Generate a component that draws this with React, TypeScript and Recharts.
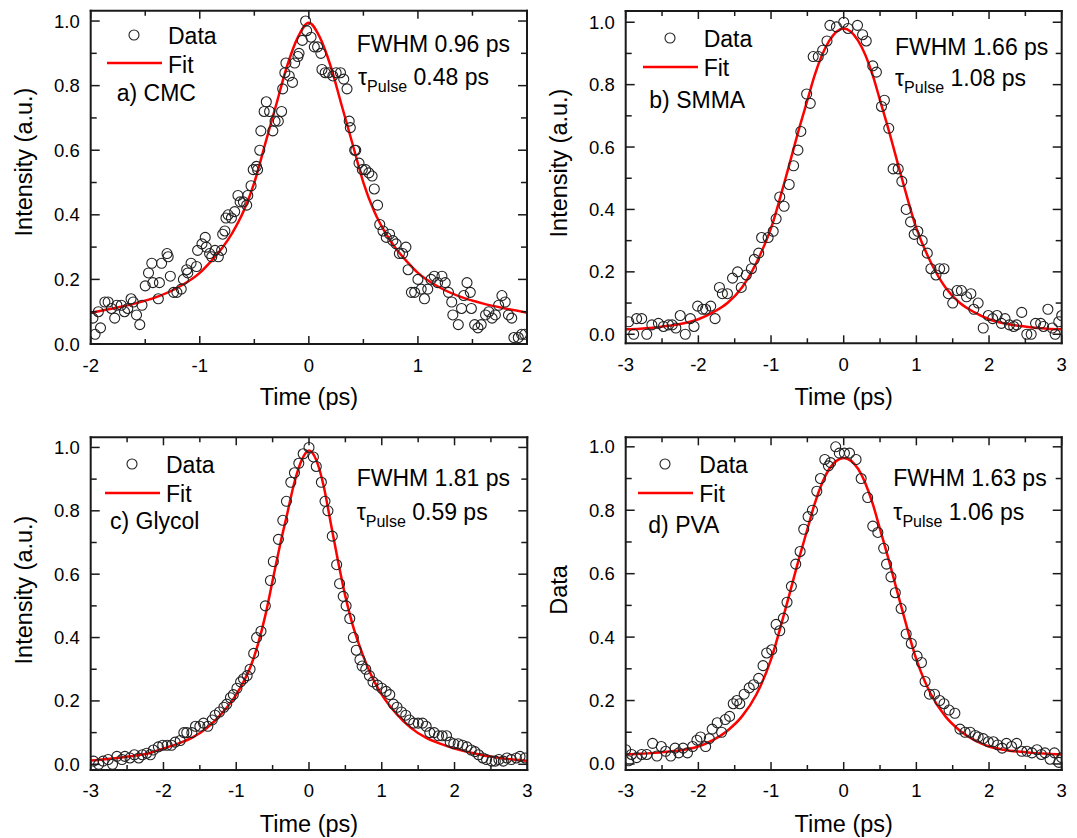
import { ComposedChart, Scatter, Line, XAxis, YAxis, Legend } from 'recharts';

const FONT = '"Liberation Sans", Arial, Helvetica, sans-serif';
const INK = '#1a1a1a';
const RED = '#ff0000';

// ---- data ----
// a) CMC
const cmcTime = [-1.98, -1.96, -1.93, -1.91, -1.87, -1.84, -1.81, -1.78, -1.76, -1.72, -1.69, -1.66, -1.63, -1.61, -1.58, -1.55, -1.53, -1.5, -1.47, -1.44, -1.43, -1.38, -1.37, -1.35, -1.3, -1.29, -1.27, -1.24, -1.21, -1.17, -1.15, -1.12, -1.11, -1.08, -1.03, -1.02, -0.98, -0.95, -0.94, -0.91, -0.89, -0.86, -0.83, -0.8, -0.79, -0.77, -0.76, -0.74, -0.71, -0.68, -0.65, -0.63, -0.6, -0.57, -0.56, -0.53, -0.51, -0.48, -0.47, -0.45, -0.44, -0.41, -0.39, -0.36, -0.33, -0.31, -0.28, -0.25, -0.24, -0.22, -0.21, -0.18, -0.15, -0.13, -0.1, -0.09, -0.06, -0.03, -0.02, 0.02, 0.05, 0.08, 0.11, 0.12, 0.15, 0.18, 0.22, 0.25, 0.29, 0.32, 0.35, 0.37, 0.38, 0.42, 0.43, 0.46, 0.49, 0.52, 0.55, 0.58, 0.6, 0.63, 0.65, 0.68, 0.71, 0.74, 0.77, 0.8, 0.83, 0.86, 0.89, 0.91, 0.94, 0.97, 1.0, 1.03, 1.06, 1.09, 1.12, 1.15, 1.18, 1.22, 1.25, 1.28, 1.31, 1.32, 1.37, 1.4, 1.42, 1.45, 1.48, 1.49, 1.52, 1.55, 1.58, 1.62, 1.65, 1.68, 1.71, 1.74, 1.77, 1.8, 1.83, 1.86, 1.88, 1.92, 1.95, 1.98];
const cmcSignal = [0.08, 0.03, 0.1, 0.05, 0.13, 0.13, 0.11, 0.08, 0.12, 0.12, 0.1, 0.11, 0.14, 0.13, 0.09, 0.06, 0.12, 0.18, 0.22, 0.25, 0.19, 0.14, 0.19, 0.25, 0.28, 0.27, 0.21, 0.16, 0.16, 0.17, 0.2, 0.23, 0.22, 0.25, 0.24, 0.29, 0.31, 0.33, 0.3, 0.28, 0.27, 0.29, 0.27, 0.29, 0.34, 0.35, 0.39, 0.4, 0.39, 0.41, 0.46, 0.44, 0.44, 0.43, 0.46, 0.49, 0.54, 0.55, 0.54, 0.6, 0.66, 0.72, 0.75, 0.72, 0.66, 0.69, 0.69, 0.72, 0.79, 0.84, 0.87, 0.83, 0.81, 0.87, 0.89, 0.9, 0.94, 1.0, 0.97, 0.95, 0.92, 0.92, 0.9, 0.85, 0.84, 0.84, 0.83, 0.84, 0.84, 0.82, 0.79, 0.69, 0.67, 0.6, 0.6, 0.56, 0.54, 0.54, 0.53, 0.52, 0.48, 0.43, 0.37, 0.35, 0.33, 0.34, 0.32, 0.31, 0.28, 0.28, 0.3, 0.23, 0.16, 0.16, 0.2, 0.17, 0.14, 0.17, 0.2, 0.21, 0.19, 0.21, 0.19, 0.16, 0.13, 0.09, 0.06, 0.11, 0.15, 0.19, 0.16, 0.11, 0.06, 0.05, 0.06, 0.09, 0.1, 0.08, 0.09, 0.12, 0.15, 0.13, 0.09, 0.08, 0.02, 0.02, 0.03, 0.03];
const cmcFitTime = [-2, -1.8, -1.6, -1.4, -1.2, -1, -0.9, -0.8, -0.7, -0.6, -0.5, -0.4, -0.3, -0.2, -0.1, 0, 0.1, 0.2, 0.3, 0.4, 0.5, 0.6, 0.7, 0.8, 0.9, 1, 1.2, 1.4, 1.6, 1.8, 2];
const cmcFit = [0.097, 0.11, 0.125, 0.145, 0.175, 0.22, 0.255, 0.295, 0.345, 0.41, 0.5, 0.62, 0.74, 0.86, 0.95, 0.995, 0.95, 0.86, 0.74, 0.62, 0.5, 0.41, 0.345, 0.295, 0.255, 0.22, 0.175, 0.145, 0.125, 0.11, 0.097];

// b) SMMA
const smmaTime = [-2.96, -2.89, -2.85, -2.78, -2.71, -2.64, -2.55, -2.48, -2.41, -2.36, -2.31, -2.25, -2.18, -2.11, -2.06, -2.01, -1.94, -1.9, -1.83, -1.77, -1.71, -1.67, -1.6, -1.53, -1.46, -1.41, -1.34, -1.27, -1.23, -1.17, -1.13, -1.04, -0.97, -0.93, -0.88, -0.82, -0.75, -0.69, -0.63, -0.59, -0.51, -0.46, -0.42, -0.35, -0.29, -0.23, -0.19, -0.1, 0, 0.06, 0.19, 0.26, 0.31, 0.4, 0.45, 0.52, 0.56, 0.62, 0.68, 0.75, 0.8, 0.86, 0.92, 0.97, 1.02, 1.08, 1.15, 1.2, 1.27, 1.32, 1.38, 1.44, 1.5, 1.56, 1.62, 1.69, 1.75, 1.79, 1.85, 1.92, 1.99, 2.05, 2.11, 2.17, 2.22, 2.28, 2.34, 2.38, 2.45, 2.52, 2.58, 2.64, 2.71, 2.75, 2.81, 2.87, 2.91, 2.96, 3.0];
const smmaSignal = [0.04, 0.0, 0.05, 0.05, 0.0, 0.03, 0.035, 0.025, 0.03, 0.03, 0.02, 0.06, 0.0, 0.05, 0.025, 0.09, 0.08, 0.08, 0.09, 0.05, 0.15, 0.13, 0.13, 0.18, 0.2, 0.15, 0.19, 0.21, 0.24, 0.26, 0.31, 0.31, 0.33, 0.37, 0.44, 0.41, 0.48, 0.54, 0.59, 0.65, 0.77, 0.74, 0.89, 0.89, 0.91, 0.94, 0.99, 0.985, 1.0, 0.98, 0.99, 0.96, 0.94, 0.86, 0.84, 0.73, 0.75, 0.66, 0.53, 0.53, 0.49, 0.4, 0.36, 0.32, 0.33, 0.3, 0.26, 0.21, 0.19, 0.21, 0.21, 0.13, 0.1, 0.14, 0.14, 0.12, 0.13, 0.08, 0.1, 0.02, 0.06, 0.05, 0.06, 0.035, 0.05, 0.03, 0.025, 0.03, 0.07, 0.0, 0.0, 0.035, 0.035, 0.025, 0.08, 0.02, 0.0, 0.04, 0.06];
const smmaFitTime = [-3, -2.8, -2.6, -2.4, -2.2, -2, -1.8, -1.6, -1.4, -1.2, -1, -0.8, -0.6, -0.5, -0.4, -0.2, 0, 0.2, 0.4, 0.5, 0.6, 0.8, 1, 1.2, 1.4, 1.6, 1.8, 2, 2.2, 2.4, 2.6, 2.8, 3];
const smmaFit = [0.016, 0.018, 0.022, 0.027, 0.035, 0.048, 0.07, 0.1, 0.15, 0.23, 0.34, 0.5, 0.67, 0.75, 0.83, 0.94, 0.98, 0.94, 0.83, 0.75, 0.67, 0.5, 0.34, 0.23, 0.15, 0.1, 0.07, 0.048, 0.035, 0.027, 0.022, 0.018, 0.016];

// c) Glycol
const glycolTime = [-2.96, -2.89, -2.83, -2.76, -2.7, -2.64, -2.57, -2.53, -2.46, -2.4, -2.34, -2.29, -2.23, -2.18, -2.14, -2.07, -2.01, -1.95, -1.89, -1.84, -1.77, -1.72, -1.68, -1.61, -1.56, -1.5, -1.45, -1.39, -1.33, -1.29, -1.23, -1.17, -1.13, -1.08, -1.04, -0.99, -0.94, -0.9, -0.85, -0.81, -0.76, -0.72, -0.66, -0.6, -0.53, -0.49, -0.42, -0.36, -0.31, -0.25, -0.2, -0.14, -0.08, 0, 0.06, 0.1, 0.17, 0.22, 0.26, 0.32, 0.38, 0.42, 0.47, 0.51, 0.56, 0.61, 0.65, 0.7, 0.73, 0.78, 0.83, 0.88, 0.94, 1.0, 1.06, 1.11, 1.16, 1.21, 1.27, 1.33, 1.38, 1.44, 1.5, 1.56, 1.61, 1.66, 1.72, 1.78, 1.83, 1.89, 1.94, 1.99, 2.05, 2.11, 2.17, 2.23, 2.28, 2.33, 2.39, 2.44, 2.51, 2.56, 2.61, 2.67, 2.72, 2.78, 2.85, 2.9, 2.97];
const glycolSignal = [0.01, 0.0, 0.01, 0.015, 0.0, 0.025, 0.015, 0.025, 0.02, 0.03, 0.02, 0.03, 0.035, 0.03, 0.045, 0.055, 0.06, 0.06, 0.06, 0.07, 0.075, 0.1, 0.1, 0.1, 0.12, 0.12, 0.13, 0.12, 0.14, 0.155, 0.165, 0.18, 0.19, 0.21, 0.22, 0.24, 0.26, 0.27, 0.28, 0.3, 0.35, 0.4, 0.42, 0.5, 0.58, 0.64, 0.71, 0.77, 0.83, 0.89, 0.92, 0.95, 0.98, 1.0, 0.97, 0.94, 0.89, 0.83, 0.8, 0.72, 0.63, 0.57, 0.53, 0.5, 0.46, 0.4, 0.36, 0.33, 0.31, 0.3, 0.28, 0.26, 0.25, 0.24, 0.23, 0.22, 0.19, 0.18, 0.165, 0.155, 0.14, 0.13, 0.13, 0.13, 0.12, 0.1, 0.1, 0.09, 0.09, 0.09, 0.07, 0.065, 0.065, 0.06, 0.055, 0.045, 0.04, 0.03, 0.02, 0.015, 0.01, 0.01, 0.015, 0.01, 0.02, 0.015, 0.02, 0.025, 0.02];
const glycolFitTime = [-3, -2.8, -2.6, -2.4, -2.2, -2, -1.8, -1.6, -1.4, -1.2, -1, -0.9, -0.8, -0.7, -0.6, -0.5, -0.4, -0.3, -0.2, -0.1, 0, 0.1, 0.2, 0.3, 0.4, 0.5, 0.6, 0.7, 0.8, 0.9, 1, 1.2, 1.4, 1.6, 1.8, 2, 2.2, 2.4, 2.6, 2.8, 3];
const glycolFit = [0.012, 0.016, 0.021, 0.027, 0.035, 0.05, 0.065, 0.085, 0.115, 0.16, 0.22, 0.26, 0.31, 0.38, 0.47, 0.58, 0.69, 0.79, 0.89, 0.96, 0.99, 0.96, 0.88, 0.76, 0.64, 0.53, 0.44, 0.37, 0.31, 0.26, 0.22, 0.16, 0.115, 0.085, 0.065, 0.05, 0.038, 0.028, 0.021, 0.015, 0.011];

// d) PVA
const pvaTime = [-3.0, -2.96, -2.92, -2.85, -2.78, -2.71, -2.63, -2.57, -2.51, -2.45, -2.38, -2.32, -2.27, -2.21, -2.15, -2.08, -2.02, -1.97, -1.9, -1.85, -1.81, -1.74, -1.68, -1.63, -1.57, -1.52, -1.47, -1.43, -1.37, -1.3, -1.24, -1.17, -1.11, -1.06, -0.99, -0.93, -0.88, -0.83, -0.78, -0.72, -0.66, -0.6, -0.55, -0.49, -0.43, -0.37, -0.32, -0.26, -0.21, -0.18, -0.11, -0.06, 0.01, 0.08, 0.17, 0.24, 0.33, 0.4, 0.47, 0.55, 0.59, 0.65, 0.71, 0.79, 0.86, 0.93, 1.01, 1.07, 1.12, 1.18, 1.25, 1.32, 1.38, 1.45, 1.53, 1.6, 1.67, 1.74, 1.81, 1.85, 1.92, 1.99, 2.06, 2.12, 2.18, 2.24, 2.31, 2.38, 2.45, 2.52, 2.59, 2.66, 2.72, 2.77, 2.84, 2.9, 2.96, 3.0];
const pvaSignal = [0.045, 0.01, 0.03, 0.02, 0.03, 0.03, 0.065, 0.025, 0.055, 0.04, 0.025, 0.05, 0.035, 0.05, 0.035, 0.055, 0.075, 0.085, 0.055, 0.08, 0.11, 0.13, 0.1, 0.14, 0.15, 0.19, 0.2, 0.19, 0.22, 0.24, 0.25, 0.27, 0.31, 0.35, 0.36, 0.44, 0.42, 0.46, 0.51, 0.56, 0.63, 0.67, 0.74, 0.78, 0.8, 0.86, 0.9, 0.96, 0.94, 0.95, 1.0, 0.98, 0.98, 0.98, 0.96, 0.9, 0.84, 0.75, 0.73, 0.68, 0.63, 0.59, 0.54, 0.49, 0.41, 0.38, 0.34, 0.32, 0.26, 0.22, 0.22, 0.2, 0.19, 0.17, 0.16, 0.11, 0.1, 0.1, 0.09, 0.085, 0.08, 0.07, 0.07, 0.06, 0.05, 0.065, 0.055, 0.065, 0.04, 0.04, 0.035, 0.045, 0.03, 0.035, 0.015, 0.035, 0.005, 0.02];
const pvaFitTime = [-3, -2.8, -2.6, -2.4, -2.2, -2, -1.8, -1.6, -1.4, -1.2, -1, -0.8, -0.6, -0.5, -0.4, -0.2, 0, 0.2, 0.4, 0.5, 0.6, 0.8, 1, 1.2, 1.4, 1.6, 1.8, 2, 2.2, 2.4, 2.6, 2.8, 3];
const pvaFit = [0.03, 0.032, 0.035, 0.039, 0.045, 0.055, 0.075, 0.105, 0.15, 0.22, 0.33, 0.49, 0.66, 0.74, 0.82, 0.93, 0.965, 0.93, 0.82, 0.74, 0.66, 0.49, 0.33, 0.22, 0.15, 0.105, 0.075, 0.055, 0.045, 0.039, 0.035, 0.032, 0.03];

// ticks
const xTicks2 = [-2, -1.5, -1, -0.5, 0, 0.5, 1, 1.5, 2];
const xTicks3 = [-3, -2.5, -2, -1.5, -1, -0.5, 0, 0.5, 1, 1.5, 2, 2.5, 3];
const yTicks = [0, 0.1, 0.2, 0.3, 0.4, 0.5, 0.6, 0.7, 0.8, 0.9, 1.0];

type Pt = { x: number; y: number };
const zip = (xs: number[], ys: number[]): Pt[] => xs.map((x, i) => ({ x, y: ys[i] }));

const frame = { stroke: INK, strokeWidth: 2, strokeLinecap: 'square' as const };

function XTick(props: any) {
  const { x, y, payload, top, labelGap } = props;
  const v: number = payload.value;
  const major = Number.isInteger(v);
  const len = major ? 8 : 5;
  const dir = top ? 1 : -1;
  return (
    <g>
      <line x1={x} y1={y} x2={x} y2={y + dir * len} stroke={INK} strokeWidth={1.5} />
      {!top && major && (
        <text x={x} y={y + labelGap} dy={6.5} textAnchor="middle" fontFamily={FONT} fontSize={18.5} fill="#000">
          {String(v)}
        </text>
      )}
    </g>
  );
}

function YTick(props: any) {
  const { x, y, payload, right } = props;
  const v: number = payload.value;
  const major = Math.round(v * 10) % 2 === 0;
  const len = major ? 9 : 6;
  const dir = right ? -1 : 1;
  return (
    <g>
      <line x1={x} y1={y} x2={x + dir * len} y2={y} stroke={INK} strokeWidth={1.5} />
      {!right && major && (
        <text x={x - 11} y={y} dy={6.5} textAnchor="end" fontFamily={FONT} fontSize={18.5} fill="#000">
          {v.toFixed(1)}
        </text>
      )}
    </g>
  );
}

const Ring = (p: any) => <circle cx={p.cx} cy={p.cy} r={5} fill="none" stroke="#222" strokeWidth={1.1} />;

function LegendBox({ payload }: any) {
  const items = [...(payload || [])].sort(
    (a: any, b: any) => (a.type === 'line' ? 1 : 0) - (b.type === 'line' ? 1 : 0),
  );
  return (
    <div style={{ position: 'relative', width: 130, height: 62, fontFamily: FONT, fontSize: 23, color: '#000' }}>
      {items.map((it: any, i: number) => {
        const iconY = i === 0 ? 16 : 44.3;
        const textY = i === 0 ? 17 : 46;
        return (
          <div key={String(it.value)}>
            <svg style={{ position: 'absolute', left: 0, top: iconY - 8 }} width={58} height={16}>
              {it.type === 'line' ? (
                <line x1={0} x2={55} y1={8} y2={8} stroke={RED} strokeWidth={2.5} />
              ) : (
                <circle cx={27} cy={8} r={5} fill="none" stroke="#222" strokeWidth={1.1} />
              )}
            </svg>
            <div style={{ position: 'absolute', left: 61, top: textY - 13, lineHeight: '26px', whiteSpace: 'nowrap' }}>
              {it.value}
            </div>
          </div>
        );
      })}
    </div>
  );
}

interface PanelProps {
  left: number;
  top: number;
  width: number;
  height: number;
  // plot-area edges inside the chart box
  plot: { top: number; right: number; bottom: number; left: number };
  data: Pt[];
  fit: Pt[];
  xDomain: [number, number];
  xTicks: number[];
  yDomain: [number, number];
  legendAt: { left: number; top: number };
  labelGap: number;
}

function Panel(p: PanelProps) {
  // every axis is 1px thick, so the margins sit one pixel outside the frame
  const margin = { top: p.plot.top - 1, right: p.plot.right - 1, bottom: p.plot.bottom - 1, left: p.plot.left - 1 };
  return (
    <div style={{ position: 'absolute', left: p.left, top: p.top }}>
      <ComposedChart width={p.width} height={p.height} margin={margin}>
        <XAxis
          xAxisId={0}
          type="number"
          dataKey="x"
          domain={p.xDomain}
          ticks={p.xTicks}
          interval={0}
          allowDataOverflow
          height={1}
          tickSize={0}
          tickMargin={0}
          tickLine={false}
          axisLine={frame}
          tick={(t: any) => <XTick {...t} labelGap={p.labelGap} />}
        />
        <XAxis
          xAxisId="t"
          orientation="top"
          type="number"
          dataKey="x"
          domain={p.xDomain}
          ticks={p.xTicks}
          interval={0}
          allowDataOverflow
          height={1}
          tickSize={0}
          tickMargin={0}
          tickLine={false}
          axisLine={frame}
          tick={(t: any) => <XTick {...t} top />}
        />
        <YAxis
          yAxisId={0}
          type="number"
          dataKey="y"
          domain={p.yDomain}
          ticks={yTicks}
          interval={0}
          allowDataOverflow
          width={1}
          tickSize={0}
          tickMargin={0}
          tickLine={false}
          axisLine={frame}
          tick={(t: any) => <YTick {...t} />}
        />
        <YAxis
          yAxisId="r"
          orientation="right"
          type="number"
          dataKey="y"
          domain={p.yDomain}
          ticks={yTicks}
          interval={0}
          allowDataOverflow
          width={1}
          tickSize={0}
          tickMargin={0}
          tickLine={false}
          axisLine={frame}
          tick={(t: any) => <YTick {...t} right />}
        />
        <Legend
          layout="vertical"
          align="center"
          verticalAlign="middle"
          wrapperStyle={{ left: p.legendAt.left, top: p.legendAt.top, width: 'auto' }}
          content={(props: any) => <LegendBox payload={props.payload} />}
        />
        <Scatter name="Data" data={p.data} dataKey="y" shape={Ring} isAnimationActive={false} />
        <Line
          name="Fit"
          data={p.fit}
          dataKey="y"
          type="monotone"
          stroke={RED}
          strokeWidth={2.5}
          dot={false}
          activeDot={false}
          isAnimationActive={false}
        />
      </ComposedChart>
    </div>
  );
}

const textBase = { position: 'absolute' as const, fontFamily: FONT, color: '#000', whiteSpace: 'nowrap' as const };

function Note({ left, cy, children, size = 23 }: any) {
  return (
    <div style={{ ...textBase, left, top: cy - size * 0.57, fontSize: size, lineHeight: `${Math.round(size * 1.13)}px` }}>
      {children}
    </div>
  );
}

function Tau({ left, cy, value }: { left: number; cy: number; value: string }) {
  return (
    <Note left={left} cy={cy}>
      τ<span style={{ fontSize: 16, position: 'relative', top: 7 }}>Pulse</span> {value}
    </Note>
  );
}

function XTitle({ cx, cy }: { cx: number; cy: number }) {
  return (
    <div style={{ ...textBase, left: cx - 100, width: 200, textAlign: 'center', top: cy - 13, fontSize: 23.5, lineHeight: '26px' }}>
      Time (ps)
    </div>
  );
}

function YTitle({ cx, cy, text }: { cx: number; cy: number; text: string }) {
  return (
    <div
      style={{
        ...textBase,
        left: cx - 150,
        top: cy - 13,
        width: 300,
        textAlign: 'center',
        fontSize: 23.5,
        lineHeight: '26px',
        transform: 'rotate(-90deg)',
        transformOrigin: '150px 13px',
      }}
    >
      {text}
    </div>
  );
}

export default function App() {
  return (
    <div style={{ position: 'absolute', left: 0, top: 0, width: 1077, height: 838, background: '#fff', overflow: 'hidden' }}>
      <Panel
        left={0}
        top={0}
        width={540}
        height={420}
        plot={{ top: 10.7, left: 90.7, right: 13, bottom: 76 }}
        data={zip(cmcTime, cmcSignal)}
        fit={zip(cmcFitTime, cmcFit)}
        xDomain={[-2, 2]}
        xTicks={xTicks2}
        yDomain={[0, 1.032]}
        legendAt={{ left: 107, top: 19 }}
        labelGap={21}
      />
      <Panel
        left={540}
        top={0}
        width={537}
        height={420}
        plot={{ top: 11, left: 85.7, right: 15.3, bottom: 76.7 }}
        data={zip(smmaTime, smmaSignal)}
        fit={zip(smmaFitTime, smmaFit)}
        xDomain={[-3, 3]}
        xTicks={xTicks3}
        yDomain={[-0.029, 1.036]}
        legendAt={{ left: 102.7, top: 22.4 }}
        labelGap={21}
      />
      <Panel
        left={0}
        top={420}
        width={540}
        height={418}
        plot={{ top: 17.3, left: 90.7, right: 12.7, bottom: 68 }}
        data={zip(glycolTime, glycolSignal)}
        fit={zip(glycolFitTime, glycolFit)}
        xDomain={[-3, 3]}
        xTicks={xTicks3}
        yDomain={[-0.018, 1.032]}
        legendAt={{ left: 105, top: 28.4 }}
        labelGap={20}
      />
      <Panel
        left={540}
        top={420}
        width={537}
        height={418}
        plot={{ top: 17.3, left: 85.7, right: 15.3, bottom: 68 }}
        data={zip(pvaTime, pvaSignal)}
        fit={zip(pvaFitTime, pvaFit)}
        xDomain={[-3, 3]}
        xTicks={xTicks3}
        yDomain={[-0.019, 1.03]}
        legendAt={{ left: 98.3, top: 28.4 }}
        labelGap={20}
      />

      <Note left={116.7} cy={93.3}>a) CMC</Note>
      <Note left={649.3} cy={100}>b) SMMA</Note>
      <Note left={110} cy={520.7}>c) Glycol</Note>
      <Note left={648.3} cy={525}>d) PVA</Note>

      <Note left={356.7} cy={44.3}>FWHM 0.96 ps</Note>
      <Tau left={358} cy={76.7} value="0.48 ps" />
      <Note left={895} cy={46.7}>FWHM 1.66 ps</Note>
      <Tau left={895} cy={78.3} value="1.08 ps" />
      <Note left={356.7} cy={478.3}>FWHM 1.81 ps</Note>
      <Tau left={356.7} cy={511.7} value="0.59 ps" />
      <Note left={893.3} cy={478.3}>FWHM 1.63 ps</Note>
      <Tau left={893.3} cy={511.7} value="1.06 ps" />

      <XTitle cx={308.9} cy={397} />
      <XTitle cx={843.7} cy={397} />
      <XTitle cx={309} cy={824} />
      <XTitle cx={843.7} cy={824} />

      <YTitle cx={24} cy={162} text="Intensity (a.u.)" />
      <YTitle cx={559} cy={163} text="Intensity (a.u.)" />
      <YTitle cx={24} cy={590} text="Intensity (a.u.)" />
      <YTitle cx={559} cy={590} text="Data" />
    </div>
  );
}
